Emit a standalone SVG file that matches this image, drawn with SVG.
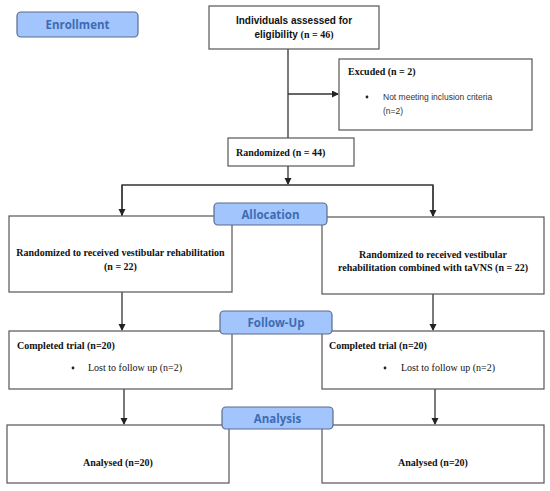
<svg xmlns="http://www.w3.org/2000/svg" width="550" height="491" viewBox="0 0 550 491">
<defs>
<marker id="arr" markerWidth="8" markerHeight="8" refX="6" refY="3.5" orient="auto" markerUnits="userSpaceOnUse">
<path d="M0,0 L7,3.5 L0,7 Z" fill="#222"/>
</marker>
<style>
.box{fill:#fff;stroke:#555;stroke-width:1.2}
.lbl{fill:#a2c5fd;stroke:#5b6b8a;stroke-width:1.2}
.lt{font-family:"Open Sans","DejaVu Sans",sans-serif;font-weight:700;font-size:11.5px;fill:#3d6cb3;text-anchor:middle}
.sb{font-family:"Liberation Sans",Arial,sans-serif;font-weight:bold;font-size:10px;fill:#111}
.ser{font-family:"Liberation Serif","Times New Roman",serif;font-weight:bold;font-size:10px;fill:#111}
.serr{font-family:"Liberation Serif","Times New Roman",serif;font-weight:normal;font-size:10px;fill:#111}
.sr{font-family:"Liberation Sans",Arial,sans-serif;font-size:8.5px;fill:#333}
.c{text-anchor:middle}
.ln{stroke:#333;stroke-width:1.3;fill:none}
</style>
</defs>
<rect width="550" height="491" fill="#fff"/>
<g id="connectors">
<path class="ln" d="M288,49 V138"/>
<path class="ln" d="M288,94 H338" marker-end="url(#arr)"/>
<path class="ln" d="M288,166 V184" marker-end="url(#arr)"/>
<path class="ln" d="M122,216 V185 H433 V216"/>
<path class="ln" d="M122,185 V215" marker-end="url(#arr)"/>
<path class="ln" d="M433,185 V216" marker-end="url(#arr)"/>
<path class="ln" d="M122,292 V330" marker-end="url(#arr)"/>
<path class="ln" d="M433,294 V330" marker-end="url(#arr)"/>
<path class="ln" d="M124,389 V424" marker-end="url(#arr)"/>
<path class="ln" d="M435,389 V424" marker-end="url(#arr)"/>
</g>
<g id="eligibility">
<rect class="box" x="209" y="6" width="170" height="43"/>
<text class="sb c" x="294" y="24">Individuals assessed for</text>
<text class="c" x="294" y="38"><tspan class="sb">eligibility </tspan><tspan class="ser">(n = 46)</tspan></text>
</g>
<g id="excluded">
<rect class="box" x="339" y="59" width="193" height="71"/>
<text class="ser" x="348" y="75">Excuded (n = 2)</text>
<circle cx="367" cy="97" r="1.4" fill="#222"/>
<text class="sr" x="383" y="100">Not meeting inclusion criteria</text>
<text class="sr" x="383" y="114">(n=2)</text>
</g>
<g id="randomized">
<rect class="box" x="228" y="138" width="126" height="28"/>
<text class="ser" x="236" y="156">Randomized (n = 44)</text>
</g>
<g id="group-left">
<rect class="box" x="9" y="216" width="223" height="76"/>
<text class="ser c" x="120.5" y="256">Randomized to received vestibular rehabilitation</text>
<text class="ser c" x="120.5" y="270">(n = 22)</text>
</g>
<g id="group-right">
<rect class="box" x="322" y="217" width="222" height="77"/>
<text class="ser c" x="433" y="258">Randomized to received vestibular</text>
<text class="ser c" x="433" y="271">rehabilitation combined with taVNS (n = 22)</text>
</g>
<g id="completed-left">
<rect class="box" x="9" y="331" width="223" height="58"/>
<text class="ser" x="17" y="349">Completed trial (n=20)</text>
<circle cx="73" cy="368" r="1.4" fill="#222"/>
<text class="serr" x="88" y="371">Lost to follow up (n=2)</text>
</g>
<g id="completed-right">
<rect class="box" x="322" y="331" width="222" height="58"/>
<text class="ser" x="329" y="349">Completed trial (n=20)</text>
<circle cx="385" cy="368" r="1.4" fill="#222"/>
<text class="serr" x="401" y="371">Lost to follow up (n=2)</text>
</g>
<g id="analysed-left">
<rect class="box" x="7" y="425" width="222" height="58"/>
<text class="ser c" x="118" y="466">Analysed (n=20)</text>
</g>
<g id="analysed-right">
<rect class="box" x="322" y="425" width="222" height="58"/>
<text class="ser c" x="433" y="466">Analysed (n=20)</text>
</g>
<g id="enrollment">
<rect class="lbl" x="17" y="12" width="121" height="25" rx="4"/>
<text class="lt" x="77.5" y="29">Enrollment</text>
</g>
<g id="allocation">
<rect class="lbl" x="214" y="203" width="113" height="22" rx="4"/>
<text class="lt" x="270.5" y="218.5">Allocation</text>
</g>
<g id="followup">
<rect class="lbl" x="220" y="311" width="112" height="23" rx="4"/>
<text class="lt" x="276" y="327">Follow-Up</text>
</g>
<g id="analysis">
<rect class="lbl" x="222" y="407" width="111" height="22" rx="4"/>
<text class="lt" x="277.5" y="422.5">Analysis</text>
</g>
</svg>
